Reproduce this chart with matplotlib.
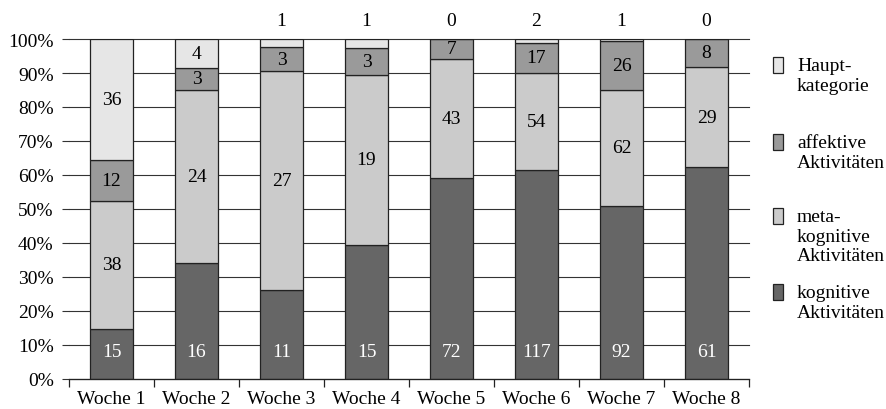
import matplotlib
matplotlib.use('Agg')
import matplotlib.pyplot as plt
import numpy as np
from matplotlib.patches import Rectangle

# Wochen
wochen = ['Woche 1', 'Woche 2', 'Woche 3', 'Woche 4', 'Woche 5', 'Woche 6', 'Woche 7', 'Woche 8']
# Anzahl je Kategorie
kognitiv = [15, 16, 11, 15, 72, 117, 92, 61]
meta = [38, 24, 27, 19, 43, 54, 62, 29]
affektiv = [12, 3, 3, 3, 7, 17, 26, 8]
haupt = [36, 4, 1, 1, 0, 2, 1, 0]

namen = ['kognitive\nAktivitäten', 'meta-\nkognitive\nAktivitäten',
         'affektive\nAktivitäten', 'Haupt-\nkategorie']
farben = ['#666666', '#cbcbcb', '#9a9a9a', '#e6e6e6']

plt.rcParams['font.family'] = ['Liberation Serif', 'DejaVu Serif']
plt.rcParams['font.size'] = 14

fig = plt.figure(figsize=(8.86, 4.10), dpi=100)
ax = fig.add_axes([69 / 886, 30 / 410, 680 / 886, 340 / 410])

serien = [np.array(kognitiv), np.array(meta), np.array(affektiv), np.array(haupt)]
summe = sum(serien)
x = np.arange(len(wochen))

# Gitterlinien
for yv in range(0, 101, 10):
    ax.axhline(yv, color='#333333', lw=0.8, zorder=0, clip_on=False)

unten = np.zeros(len(wochen))
for i, (werte, farbe) in enumerate(zip(serien, farben)):
    anteil = werte / summe * 100
    ax.bar(x, anteil, width=0.5, bottom=unten, color=farbe,
           edgecolor='#222222', linewidth=0.9, zorder=2)
    for j in range(len(wochen)):
        if i == 0:
            ax.text(x[j], 8, str(werte[j]), ha='center', va='center',
                    color='white', zorder=3)
        elif i == 3 and anteil[j] < 5:
            ax.text(x[j], 105.5, str(werte[j]), ha='center', va='center',
                    color='black', clip_on=False)
        else:
            ax.text(x[j], unten[j] + anteil[j] / 2, str(werte[j]), ha='center',
                    va='center', color='black', zorder=3)
    unten = unten + anteil

ax.set_xlim(-0.5, len(wochen) - 0.5)
ax.set_ylim(0, 100)

ax.set_yticks(range(0, 101, 10))
ax.set_yticklabels([f'{v}%' for v in range(0, 101, 10)])
ax.tick_params(axis='y', length=5, width=0.8, color='#333333', pad=6, labelsize=14)

ax.set_xticks(np.arange(-0.5, len(wochen), 1.0))
ax.set_xticklabels([])
ax.set_xticks(x, minor=True)
ax.set_xticklabels(wochen, minor=True)
ax.tick_params(axis='x', which='major', length=6, width=0.9, color='#222222', direction='out')
ax.tick_params(axis='x', which='minor', length=0, pad=8, labelsize=14)

for s in ['left', 'right', 'top']:
    ax.spines[s].set_visible(False)
ax.spines['bottom'].set_color('#222222')
ax.spines['bottom'].set_linewidth(0.9)

# Legende
leg_y = [66, 143, 217, 293]
leg_idx = [3, 2, 1, 0]
for yy, k in zip(leg_y, leg_idx):
    fig.patches.append(Rectangle((773 / 886, 1 - (yy + 8) / 410), 10 / 886, 16 / 410,
                                 transform=fig.transFigure, facecolor=farben[k],
                                 edgecolor='#222222', linewidth=0.9))
    fig.text(797 / 886, 1 - (yy - 8) / 410, namen[k], ha='left', va='top',
             fontsize=14, linespacing=1.2)

fig.savefig('out.png', dpi=100)
